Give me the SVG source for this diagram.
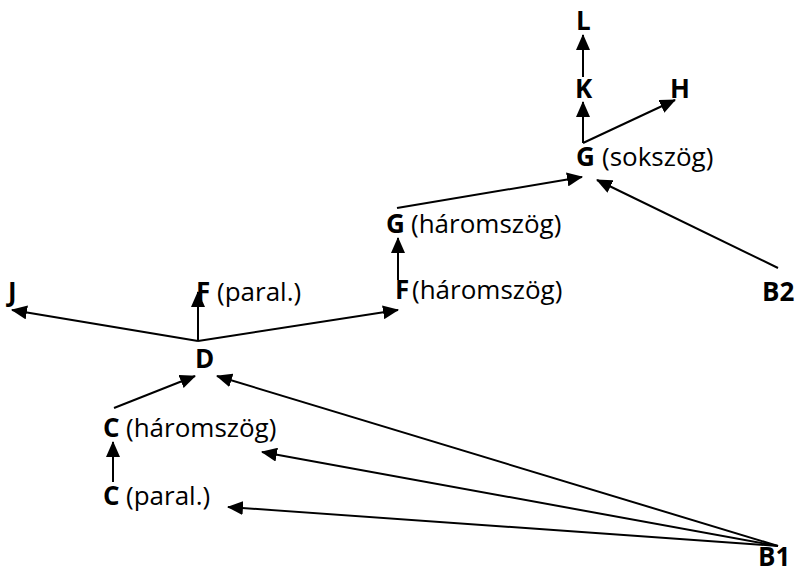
<svg xmlns="http://www.w3.org/2000/svg" width="796" height="574" viewBox="0 0 796 574">
<defs>
<style>
text{font-family:"Open Sans","Liberation Sans",sans-serif;font-size:26px;fill:#000}
.b{font-weight:bold}
.c line{stroke:#000;stroke-width:2;marker-end:url(#ah)}
</style>
<marker id="ah" markerUnits="userSpaceOnUse" markerWidth="16" markerHeight="14" refX="15" refY="7" orient="auto" viewBox="0 0 16 14">
<path d="M0,0 L16,7 L0,14 Z" fill="#000"/>
</marker>
</defs>
<rect width="796" height="574" fill="#fff"/>
<g class="c" id="connectors">
<line x1="583" y1="77" x2="583" y2="35"/>
<line x1="583" y1="143" x2="583" y2="102"/>
<line x1="583" y1="143" x2="675" y2="100"/>
<line x1="397" y1="208" x2="582" y2="177"/>
<line x1="778" y1="268" x2="597" y2="180"/>
<line x1="398" y1="280" x2="398" y2="238"/>
<line x1="198" y1="341" x2="12" y2="310"/>
<line x1="198" y1="341" x2="198" y2="292"/>
<line x1="198" y1="341" x2="398" y2="310"/>
<line x1="114" y1="408" x2="195" y2="376"/>
<line x1="113" y1="482" x2="113" y2="442"/>
<line x1="778" y1="546" x2="217" y2="376"/>
<line x1="778" y1="546" x2="262" y2="452"/>
<line x1="778" y1="546" x2="228" y2="507"/>
</g>
<g id="L"><text class="b" x="576" y="30">L</text></g>
<g id="K"><text class="b" x="575" y="98">K</text></g>
<g id="H"><text class="b" x="670" y="98">H</text></g>
<g id="G_sokszog"><text x="576" y="166"><tspan class="b">G</tspan><tspan x="602">(sokszög)</tspan></text></g>
<g id="G_haromszog"><text x="386" y="233"><tspan class="b">G</tspan><tspan x="411">(háromszög)</tspan></text></g>
<g id="F_haromszog"><text x="395" y="299"><tspan class="b">F</tspan><tspan x="412">(háromszög)</tspan></text></g>
<g id="B2"><text class="b" x="762" y="301">B2</text></g>
<g id="J"><text class="b" x="8" y="301">J</text></g>
<g id="F_paral"><text x="196" y="301"><tspan class="b">F</tspan><tspan x="217">(paral.)</tspan></text></g>
<g id="D"><text class="b" x="195" y="368">D</text></g>
<g id="C_haromszog"><text x="103" y="437"><tspan class="b">C</tspan><tspan x="126">(háromszög)</tspan></text></g>
<g id="C_paral"><text x="103" y="505"><tspan class="b">C</tspan><tspan x="126">(paral.)</tspan></text></g>
<g id="B1"><text class="b" x="758" y="566">B1</text></g>
</svg>
